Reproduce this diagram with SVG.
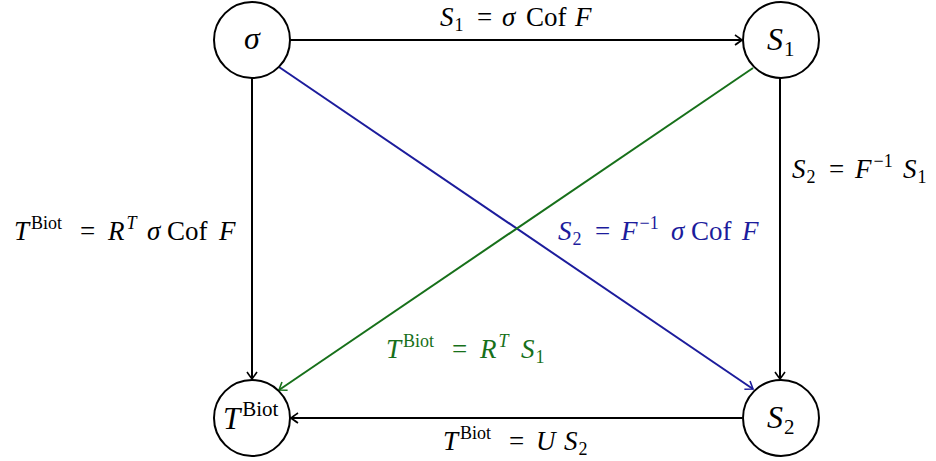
<svg xmlns="http://www.w3.org/2000/svg" width="936" height="461" viewBox="0 0 936 461">
<style>
text{font-family:"Liberation Serif","DejaVu Serif",serif;font-size:27px;fill:#000}
.i{font-style:italic}
.s{font-size:18px}
.nl{font-size:32px}
.ns{font-size:21px}
.nt{font-size:31px}
.nb{font-size:21px}
.node circle{fill:#fff;stroke:#000;stroke-width:2}
.e{fill:none;stroke-width:2}
.blue{fill:#1c1c9c}
.green{fill:#17701a}
</style>
<defs>
<marker id="ak" viewBox="-10 -6 12 12" refX="0" refY="0" markerWidth="12" markerHeight="12" markerUnits="userSpaceOnUse" orient="auto">
<path d="M-7,-5 Q-2,-1.5 0,0 Q-2,1.5 -7,5" fill="none" stroke="#000" stroke-width="1.6"/>
</marker>
<marker id="ab" viewBox="-10 -6 12 12" refX="0" refY="0" markerWidth="12" markerHeight="12" markerUnits="userSpaceOnUse" orient="auto">
<path d="M-7,-5 Q-2,-1.5 0,0 Q-2,1.5 -7,5" fill="none" stroke="#1c1c9c" stroke-width="1.6"/>
</marker>
<marker id="ag" viewBox="-10 -6 12 12" refX="0" refY="0" markerWidth="12" markerHeight="12" markerUnits="userSpaceOnUse" orient="auto">
<path d="M-7,-5 Q-2,-1.5 0,0 Q-2,1.5 -7,5" fill="none" stroke="#17701a" stroke-width="1.6"/>
</marker>
</defs>
<g id="connectors">
<line class="e" x1="290" y1="40" x2="742" y2="40" stroke="#000" marker-end="url(#ak)"/>
<line class="e" x1="780" y1="78" x2="780" y2="379" stroke="#000" marker-end="url(#ak)"/>
<line class="e" x1="252" y1="78" x2="252" y2="379" stroke="#000" marker-end="url(#ak)"/>
<line class="e" x1="742" y1="418" x2="291" y2="418" stroke="#000" marker-end="url(#ak)"/>
<line class="e" x1="279" y1="67" x2="753" y2="389" stroke="#1c1c9c" stroke-width="1.6" marker-end="url(#ab)"/>
<line class="e" x1="753" y1="68" x2="279" y2="390" stroke="#17701a" stroke-width="1.6" marker-end="url(#ag)"/>
<text><tspan class="i" x="440" y="26">S</tspan><tspan class="s" dx="1" y="31">1</tspan><tspan x="477" y="26">=</tspan><tspan class="i" x="502" y="26">σ</tspan><tspan x="526" y="26">Cof</tspan><tspan class="i" x="575" y="26">F</tspan></text>
<text><tspan class="i" x="792" y="178">S</tspan><tspan class="s" dx="1" y="183">2</tspan><tspan x="829" y="178">=</tspan><tspan class="i" x="855" y="178">F</tspan><tspan class="s" dx="2" y="167">−1</tspan><tspan class="i" x="903" y="178">S</tspan><tspan class="s" dx="1" y="183">1</tspan></text>
<text><tspan class="i" x="14" y="240">T</tspan><tspan class="s" dx="2" y="229">Biot</tspan><tspan x="80" y="240">=</tspan><tspan class="i" x="108" y="240">R</tspan><tspan class="s i" dx="2" y="229">T</tspan><tspan class="i" x="147" y="240">σ</tspan><tspan x="167" y="240">Cof</tspan><tspan class="i" x="219" y="240">F</tspan></text>
<text class="blue"><tspan class="i" x="558" y="240">S</tspan><tspan class="s" dx="1" y="245">2</tspan><tspan x="595" y="240">=</tspan><tspan class="i" x="621" y="240">F</tspan><tspan class="s" dx="2" y="229">−1</tspan><tspan class="i" x="671" y="240">σ</tspan><tspan x="691" y="240">Cof</tspan><tspan class="i" x="742" y="240">F</tspan></text>
<text class="green"><tspan class="i" x="386" y="358">T</tspan><tspan class="s" dx="2" y="347">Biot</tspan><tspan x="452" y="358">=</tspan><tspan class="i" x="480" y="358">R</tspan><tspan class="s i" dx="2" y="347">T</tspan><tspan class="i" x="521" y="358">S</tspan><tspan class="s" dx="1" y="363">1</tspan></text>
<text><tspan class="i" x="443" y="450">T</tspan><tspan class="s" dx="2" y="439">Biot</tspan><tspan x="509" y="450">=</tspan><tspan class="i" x="536" y="450">U</tspan><tspan class="i" x="564" y="450">S</tspan><tspan class="s" dx="1" y="455">2</tspan></text>
</g>
<g id="n-sigma" class="node"><circle cx="252" cy="40" r="38"/><text class="nl i" x="252" y="49" text-anchor="middle">σ</text></g>
<g id="n-S1" class="node"><circle cx="781" cy="40" r="38"/><text class="nl"><tspan class="i" x="767" y="50">S</tspan><tspan class="ns" dx="1" y="56">1</tspan></text></g>
<g id="n-T" class="node"><circle cx="252" cy="418" r="38"/><text class="nt"><tspan class="i" x="223" y="429">T</tspan><tspan class="nb" dx="2" y="416">Biot</tspan></text></g>
<g id="n-S2" class="node"><circle cx="781" cy="418" r="38"/><text class="nl"><tspan class="i" x="767" y="428">S</tspan><tspan class="ns" dx="1" y="434">2</tspan></text></g>
</svg>
